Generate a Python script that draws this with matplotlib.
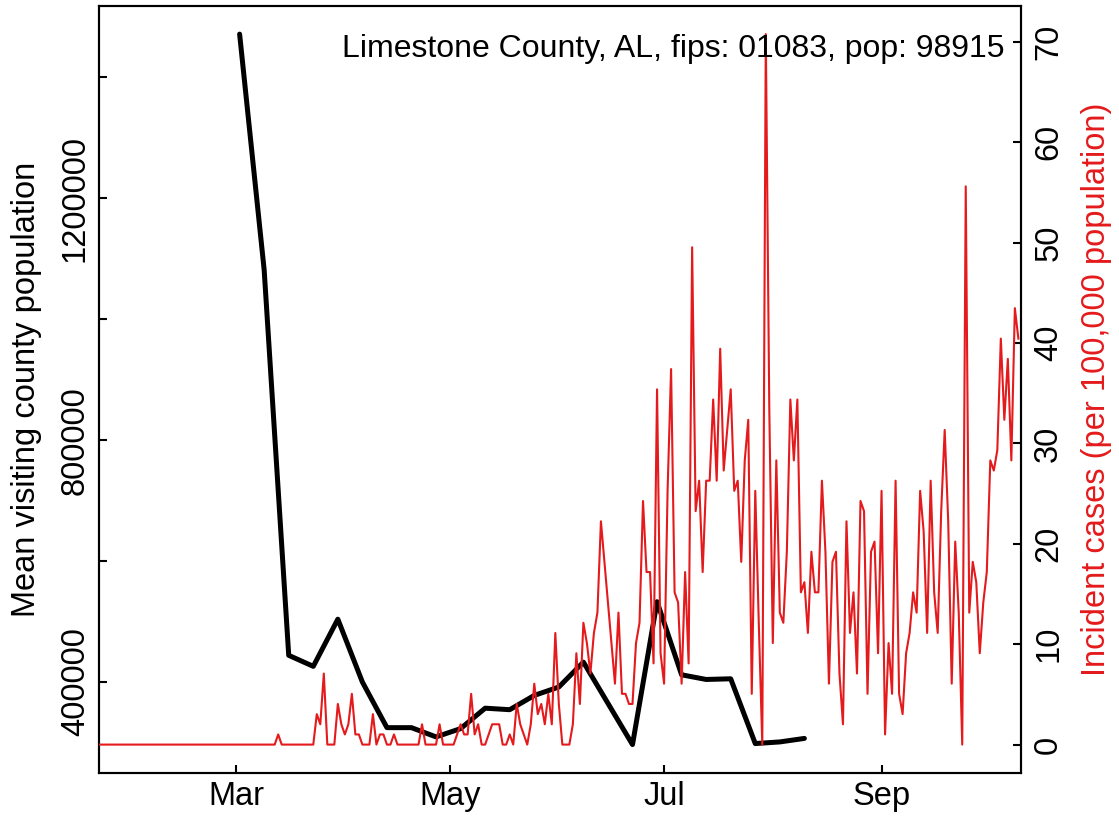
import matplotlib
matplotlib.use("Agg")
import matplotlib.pyplot as plt
import numpy as np
import pandas as pd

plt.rcParams['font.family'] = ['Liberation Sans', 'DejaVu Sans']

title_text = "Limestone County, AL, fips: 01083, pop: 98915"
population = 98915
left_label = "Mean visiting county population"
right_label = "Incident cases (per 100,000 population)"

# weekly mean visiting county population (black line)
mobility_dates = ["2020-03-02", "2020-03-09", "2020-03-16", "2020-03-23", "2020-03-30",
                  "2020-04-06", "2020-04-13", "2020-04-20", "2020-04-27", "2020-05-04",
                  "2020-05-11", "2020-05-18", "2020-05-25", "2020-06-01", "2020-06-08",
                  "2020-06-22", "2020-06-29", "2020-07-06", "2020-07-13", "2020-07-20",
                  "2020-07-27", "2020-08-03", "2020-08-10"]
mobility_values = [1471600, 1081500, 444200, 426000, 504000,
                   400000, 324600, 324600, 309300, 323000,
                   356800, 354300, 377900, 391800, 433000,
                   296600, 532900, 412000, 404300, 405400,
                   298300, 301000, 306800]

# daily incident cases (red line), starting 2020-01-22
case_start = "2020-01-22"
incident_cases = [
    0, 0, 0, 0, 0, 0, 0, 0, 0, 0,
    0, 0, 0, 0, 0, 0, 0, 0, 0, 0,
    0, 0, 0, 0, 0, 0, 0, 0, 0, 0,
    0, 0, 0, 0, 0, 0, 0, 0, 0, 0,
    0, 0, 0, 0, 0, 0, 0, 0, 0, 0,
    0,
    1, 0, 0, 0, 0, 0, 0, 0, 0, 0,
    0, 3, 2, 7, 0, 0, 0, 4, 2, 1,
    2, 5, 1, 1, 0, 0, 0, 3, 0, 1,
    1, 0, 0, 1, 0, 0, 0, 0, 0, 0,
    0, 2, 0, 0, 0, 0, 2, 0, 0, 0,
    0, 1, 2, 1, 1, 5, 1, 2, 0, 0,
    1, 2, 2, 2, 0, 0, 1, 0, 4, 2,
    1, 0, 2, 6, 3, 4, 2, 5, 2, 11,
    4, 0, 0, 0, 2, 9, 4, 12, 10, 7,
    11, 13, 22, 18, 14, 10, 6, 13, 5, 5,
    4, 4, 10, 12, 24, 17, 17, 8, 35, 9,
    6, 25, 37, 15, 14, 6, 17, 8, 49, 23,
    26, 17, 26, 26, 34, 26, 39, 27, 31, 35,
    25, 26, 18, 28, 32, 5, 25, 12, 0, 70,
    33, 10, 28, 13, 12, 19, 34, 28, 34, 15,
    16, 11, 19, 15, 15, 26, 19, 6, 18, 19,
    7, 2, 22, 11, 15, 7, 24, 23, 5, 19,
    20, 9, 25, 1, 10, 5, 26, 5, 3, 9,
    11, 15, 13, 25, 21, 11, 26, 15, 11, 23,
    31, 22, 6, 20, 13, 0, 55, 13, 18, 16,
    9, 14, 17, 28, 27, 29, 40, 32, 38, 28,
    43, 40,
]

left_ticks = [400000, 600000, 800000, 1000000, 1200000, 1400000]
left_ticklabels = ["400000", "", "800000", "", "1200000", ""]
right_ticks = [0, 10, 20, 30, 40, 50, 60, 70]
month_ticks = ["2020-03-01", "2020-05-01", "2020-07-01", "2020-09-01"]
month_labels = ["Mar", "May", "Jul", "Sep"]

RED = "#E41A1C"
FS = 23.5

case_dates = pd.date_range(case_start, periods=len(incident_cases), freq="D")
incidence = np.array(incident_cases, dtype=float) * 100000.0 / population
mob_dates = pd.to_datetime(mobility_dates)

W, H = 1119, 822
fig = plt.figure(figsize=(W / 100, H / 100), dpi=100)
x0, x1, y0, y1 = 99.3, 1020.7, 5.7, 773.0
ax = fig.add_axes([x0 / W, 1 - y1 / H, (x1 - x0) / W, (y1 - y0) / H])

ax.plot(mob_dates, mobility_values, color="black", lw=3.6,
        solid_capstyle="round", solid_joinstyle="round", zorder=2)
lo, hi = min(mobility_values), max(mobility_values)
pad = 0.04 * (hi - lo)
ax.set_ylim(lo - pad, hi + pad)
ax.set_yticks(left_ticks)
ax.set_yticklabels(left_ticklabels, rotation=90, va="center", fontsize=FS)

ax2 = ax.twinx()
ax2.plot(case_dates, incidence, color=RED, lw=1.5, zorder=3)
rlo, rhi = incidence.min(), incidence.max()
rpad = 0.04 * (rhi - rlo)
ax2.set_ylim(rlo - rpad, rhi + rpad)
ax2.set_yticks(right_ticks)
ax2.set_yticklabels([str(t) for t in right_ticks], rotation=90, va="center", fontsize=FS)

xs = pd.Timestamp(case_start)
xe = case_dates[-1] + pd.Timedelta(hours=16)
ax.set_xlim(xs, xe)
ax.set_xticks(pd.to_datetime(month_ticks))
ax.set_xticklabels(month_labels, fontsize=FS)

for a in (ax, ax2):
    for s in a.spines.values():
        s.set_linewidth(1.5)
ax.tick_params(axis="both", direction="in", length=6, width=1.5)
ax.tick_params(axis="y", pad=6)
ax.tick_params(axis="x", pad=6)
ax2.tick_params(axis="y", direction="in", length=6, width=1.5, pad=9)

fig.text(1005 / W, 1 - 57.4 / H, title_text, ha="right", va="baseline", fontsize=23.0)
fig.text(27 / W, 1 - 389 / H, left_label, rotation=90, ha="center", va="center", fontsize=FS)
fig.text(1096 / W, 1 - 389 / H, right_label, rotation=90, ha="center", va="center",
         fontsize=FS, color=RED)

fig.savefig("out.png", dpi=100)
